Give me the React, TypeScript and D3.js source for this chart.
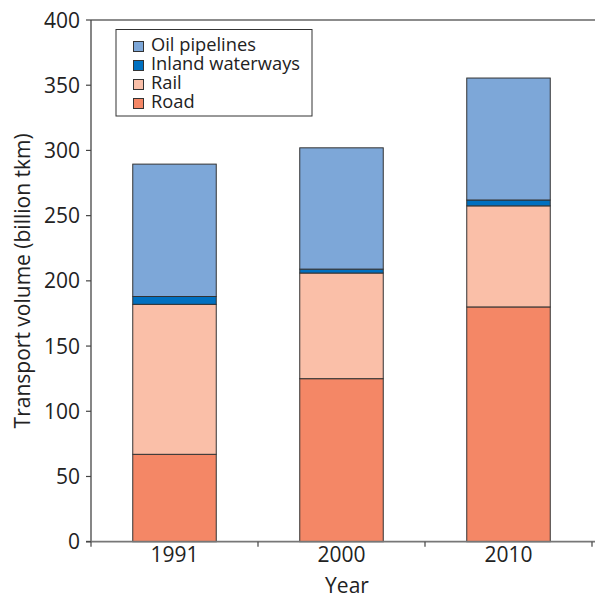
import React from "react";
import * as d3 from "d3";

const years = ["1991", "2000", "2010"];
const seriesNames = ["Road", "Rail", "Inland waterways", "Oil pipelines"];
const road = [67, 125, 180];
const rail = [115, 81, 77.5];
const waterways = [6, 3, 4.5];
const oil = [101.5, 93, 93.5];
const colors = ["#F48766", "#FABFA8", "#0070C0", "#7DA7D8"];
const yTicks = [0, 50, 100, 150, 200, 250, 300, 350, 400];
const legendOrder = ["Oil pipelines", "Inland waterways", "Rail", "Road"];

const W = 595;
const H = 598;
const left = 91;
const right = 592;
const top = 20;
const bottom = 541.7;
const font = "'Open Sans', 'Noto Sans', sans-serif";

export default function App() {
  const x = d3.scaleBand<string>().domain(years).range([left, right]).paddingInner(0.5).paddingOuter(0.25);
  const xb = d3.scaleBand<string>().domain(years).range([left, right]);
  const y = d3.scaleLinear().domain([0, 400]).range([bottom, top]);
  const table = years.map((yr, i) => ({
    year: yr,
    Road: road[i],
    Rail: rail[i],
    "Inland waterways": waterways[i],
    "Oil pipelines": oil[i],
  }));
  const stacked = d3.stack<any>().keys(seriesNames)(table);
  const color = d3.scaleOrdinal<string, string>().domain(seriesNames).range(colors);

  return (
    <svg width={W} height={H} style={{ position: "absolute", left: 0, top: 0, background: "#fff" }}>
      {/* bars */}
      {stacked.map((s) => (
        <g key={s.key}>
          {s.map((d, i) => (
            <rect
              key={i}
              x={x(years[i])!}
              width={x.bandwidth()}
              y={y(d[1])}
              height={y(d[0]) - y(d[1])}
              fill={color(s.key)}
              stroke="#333"
              strokeWidth={1}
            />
          ))}
        </g>
      ))}
      {/* axes */}
      <line x1={left} x2={W} y1={top} y2={top} stroke="#666" strokeWidth={1.5} />
      <line x1={left} x2={left} y1={top} y2={bottom} stroke="#444" strokeWidth={1.3} />
      <line x1={left - 5} x2={W} y1={bottom} y2={bottom} stroke="#777" strokeWidth={1.8} />
      {yTicks.map((t) => (
        <g key={t}>
          <line x1={left - 5} x2={left} y1={y(t)} y2={y(t)} stroke="#444" strokeWidth={1.2} />
          <text x={left - 11} y={y(t)} dy="0.36em" textAnchor="end" fontSize={21} fontFamily={font} fill="#222">
            {t}
          </text>
        </g>
      ))}
      {[...years.map((yr) => xb(yr)!), right].map((px, i) => (
        <line key={i} x1={px} x2={px} y1={bottom} y2={bottom + 5} stroke="#444" strokeWidth={1.2} />
      ))}
      {years.map((yr) => (
        <text key={yr} x={x(yr)! + x.bandwidth() / 2} y={562} textAnchor="middle" fontSize={21} fontFamily={font} fill="#222">
          {yr}
        </text>
      ))}
      <text x={347} y={593} textAnchor="middle" fontSize={21} fontFamily={font} fill="#222">
        Year
      </text>
      <text
        transform={`translate(30, ${(top + bottom) / 2}) rotate(-90)`}
        textAnchor="middle"
        fontSize={21}
        fontFamily={font}
        fill="#222"
      >
        Transport volume (billion tkm)
      </text>
      {/* legend */}
      <rect x={116} y={29.5} width={196} height={86.5} fill="#fff" stroke="#333" strokeWidth={1} />
      {legendOrder.map((name, i) => (
        <g key={name}>
          <rect x={133.5} y={41.5 + i * 19} width={10} height={10} fill={color(name)} stroke="#333" strokeWidth={1} />
          <text x={151} y={51 + i * 19} fontSize={18.3} fontFamily={font} fill="#222">
            {name}
          </text>
        </g>
      ))}
    </svg>
  );
}
